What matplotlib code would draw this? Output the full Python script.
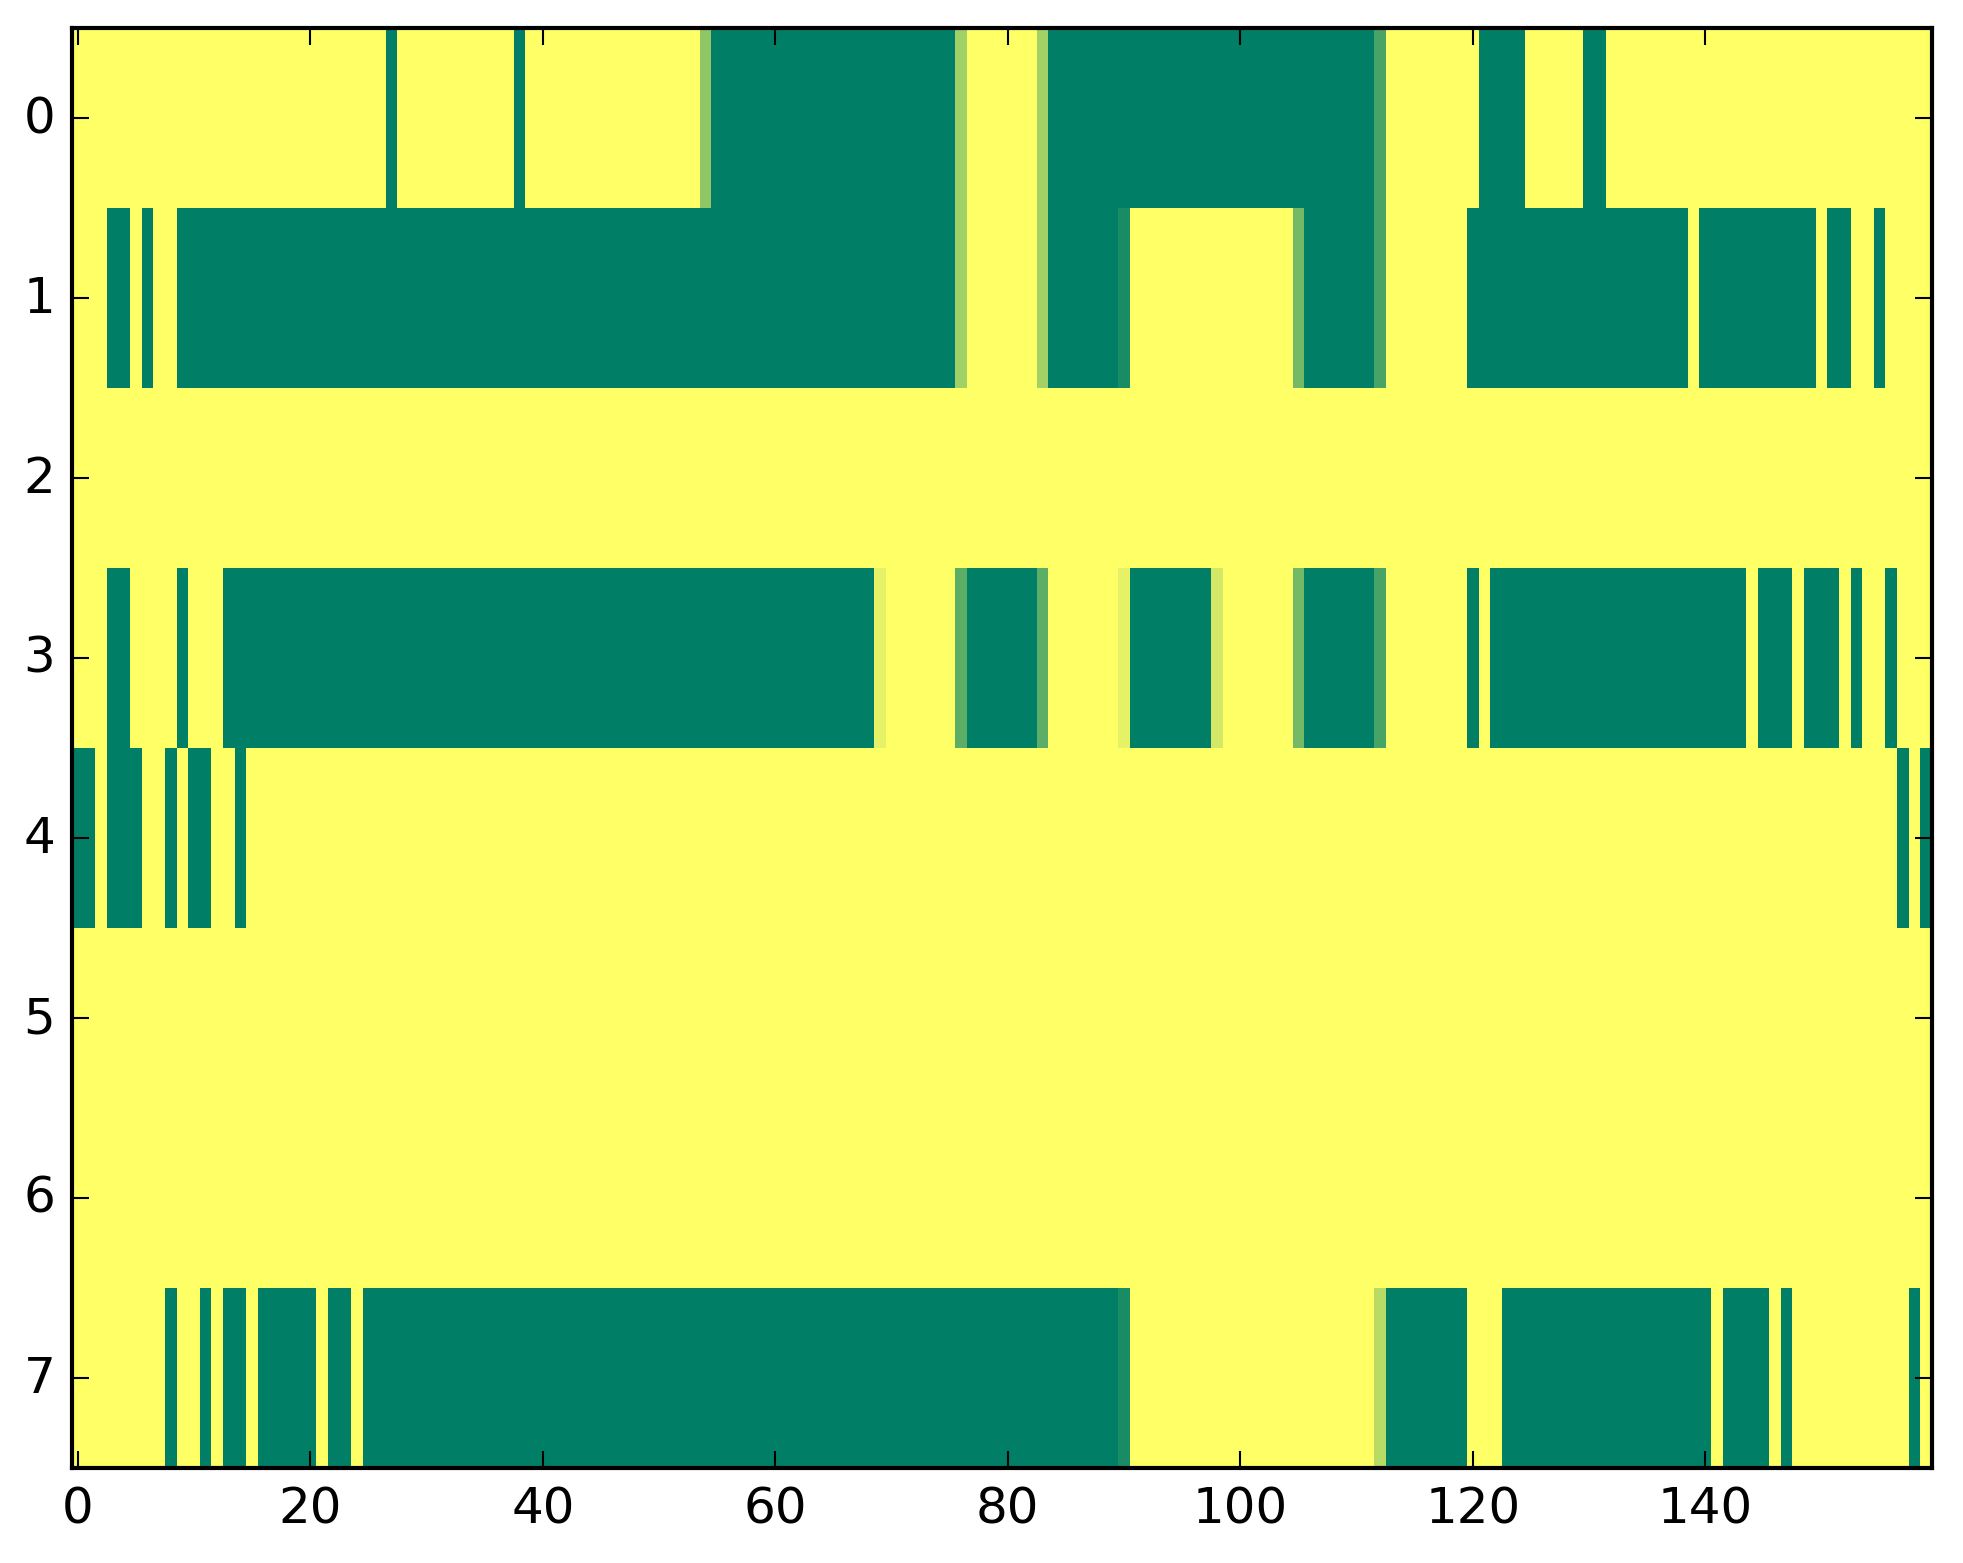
import numpy as np
import matplotlib
matplotlib.use("Agg")
import matplotlib.pyplot as plt

# runs of non-1 cells per row: (first col, last col, value); everything else is 1
n_cols = 160
row0 = [(27, 27, 0), (38, 38, 0), (54, 54, 0.56), (55, 75, 0), (76, 76, 0.63),
        (83, 83, 0.64), (84, 111, 0), (112, 112, 0.28), (121, 124, 0), (130, 131, 0)]
row1 = [(3, 4, 0), (6, 6, 0), (9, 75, 0), (76, 76, 0.63), (83, 83, 0.64), (84, 89, 0),
        (90, 90, 0.1), (105, 105, 0.45), (106, 111, 0), (112, 112, 0.28), (120, 138, 0),
        (140, 149, 0), (151, 152, 0), (155, 155, 0)]
row2 = []
row3 = [(3, 4, 0), (9, 9, 0), (13, 68, 0), (69, 69, 0.9), (76, 76, 0.36), (77, 82, 0),
        (83, 83, 0.36), (90, 90, 0.9), (91, 97, 0), (98, 98, 0.83), (105, 105, 0.45),
        (106, 111, 0), (112, 112, 0.28), (120, 120, 0), (122, 143, 0), (145, 147, 0),
        (149, 151, 0), (153, 153, 0), (156, 156, 0)]
row4 = [(0, 1, 0), (3, 5, 0), (8, 8, 0), (10, 11, 0), (14, 14, 0), (157, 157, 0), (159, 159, 0)]
row5 = []
row6 = []
row7 = [(8, 8, 0), (11, 11, 0), (13, 14, 0), (16, 20, 0), (22, 23, 0), (25, 89, 0),
        (90, 90, 0.1), (112, 112, 0.72), (113, 119, 0), (123, 140, 0), (142, 145, 0),
        (147, 147, 0), (158, 158, 0)]
rows = [row0, row1, row2, row3, row4, row5, row6, row7]

data = np.ones((len(rows), n_cols))
for r, segs in enumerate(rows):
    for a, b, v in segs:
        data[r, a:b + 1] = v

plt.style.use("classic")
fig = plt.figure(figsize=(1963 / 300, 1564 / 300), dpi=300, facecolor="white")
ax = fig.add_axes([72 / 1963, 95 / 1564, 1860 / 1963, 1440 / 1564])
ax.imshow(data, cmap="summer", vmin=0, vmax=1, aspect="auto", interpolation="nearest")
ax.set_xticks([0, 20, 40, 60, 80, 100, 120, 140])
ax.set_yticks(range(8))
ax.tick_params(labelsize=12)

fig.savefig("out.png", dpi=300, facecolor="white")
